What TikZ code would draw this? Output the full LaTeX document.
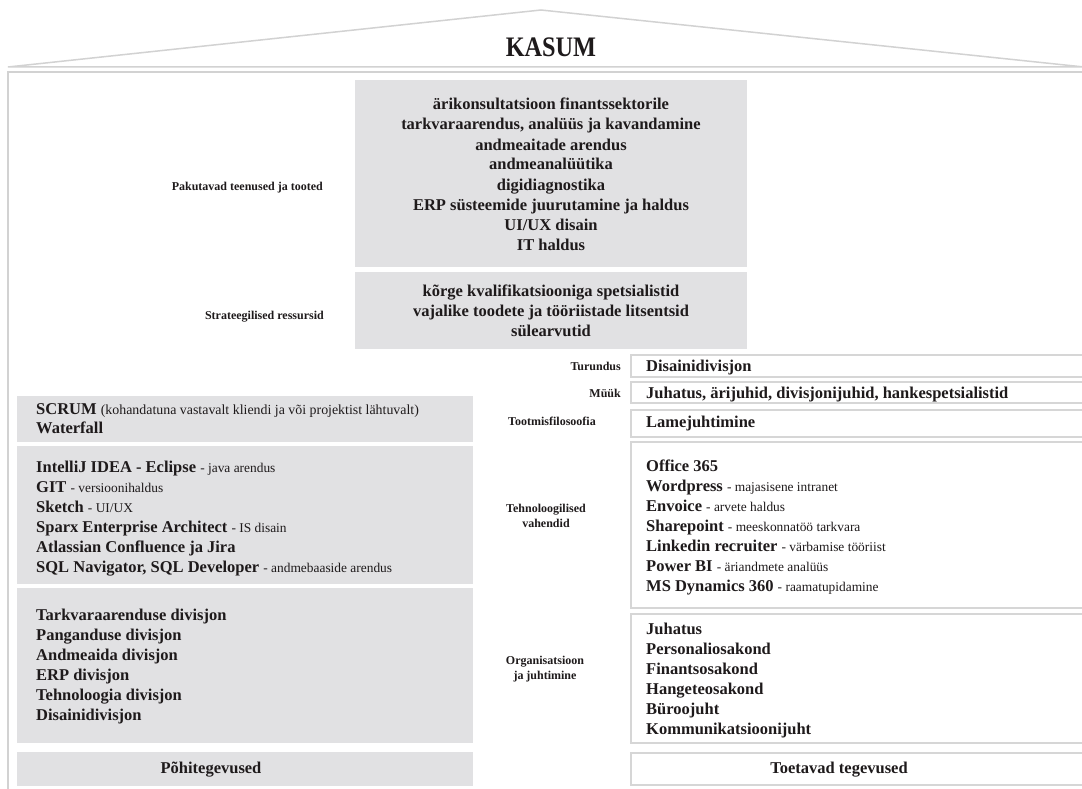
\documentclass[tikz,border=0pt]{standalone}
\usepackage{fontspec}
\setmainfont{Liberation Serif}
\definecolor{boxgray}{HTML}{E1E1E3}
\definecolor{bordergray}{HTML}{D6D6D6}
\definecolor{roofgray}{HTML}{D2D2D2}
\definecolor{ink}{HTML}{1E1A1B}
\newcommand\dsc[1]{{\mdseries\fontsize{13.4}{14}\selectfont #1}}
\tikzset{
  graybox/.style={fill=boxgray, draw=none, anchor=north west, inner sep=0, outer sep=0},
  whitebox/.style={fill=white, draw=bordergray, line width=1.4pt, anchor=north west, inner sep=0, outer sep=0},
  item/.style={anchor=base west, inner sep=0, text=ink, font=\bfseries\fontsize{16.5}{20}\selectfont},
  citem/.style={anchor=base, inner sep=0, text=ink, font=\bfseries\fontsize{16.5}{20}\selectfont},
  lbl/.style={inner sep=0, text=ink, font=\bfseries\fontsize{12}{15}\selectfont},
  roof/.style={draw=roofgray, line width=1.5pt}
}
\begin{document}
\begin{tikzpicture}[x=1pt,y=-1pt]
\clip (0,0) rectangle (1082,789);
\fill[white] (0,0) rectangle (1082,789);
% roof and frame
\coordinate (rl) at (8,67);
\coordinate (rp) at (541,10);
\coordinate (rr) at (1084,67);
\draw[roof] (rl) -- (rp) -- (rr) -- cycle;
\coordinate (fl) at (8,72);
\coordinate (fr) at (1090,72);
\coordinate (fb) at (8,795);
\draw[roof] (fr) -- (fl) -- (fb);
\node[text=ink, font=\bfseries\fontsize{25}{28}\selectfont, inner sep=0] (kasum) at (551,47) {\scalebox{0.97}[1.13]{KASUM}};

% services and resources
\node[graybox, minimum width=392pt, minimum height=187pt] (svc) at (355,80) {};
\node[graybox, minimum width=392pt, minimum height=77pt] (res) at (355,272) {};
\foreach \t [count=\i from 0] in {ärikonsultatsioon finantssektorile,{tarkvaraarendus, analüüs ja kavandamine},andmeaitade arendus,andmeanalüütika,digidiagnostika,ERP süsteemide juurutamine ja haldus,UI/UX disain,IT haldus}
  \node[citem] (svc\i) at (551,{110+20*\i}) {\t};
\foreach \t [count=\i from 0] in {kõrge kvalifikatsiooniga spetsialistid,vajalike toodete ja tööriistade litsentsid,sülearvutid}
  \node[citem] (res\i) at (551,{296+20*\i}) {\t};
\node[lbl, anchor=base east] (lsvc) at (323,190) {Pakutavad teenused ja tooted};
\node[lbl, anchor=base east] (lres) at (324,319) {Strateegilised ressursid};

% left column
\node[graybox, minimum width=456pt, minimum height=46pt] (scrum) at (17,396) {};
\node[graybox, minimum width=456pt, minimum height=138pt] (tools) at (17,446) {};
\node[graybox, minimum width=456pt, minimum height=155pt] (divs) at (17,588) {};
\node[graybox, minimum width=456pt, minimum height=34pt] (pohi) at (17,752) {};
\node[item] (scrum0) at (36,414) {SCRUM {\mdseries\fontsize{13.9}{14}\selectfont (kohandatuna vastavalt kliendi ja või projektist lähtuvalt)}};
\node[item] (scrum1) at (36,433) {Waterfall};
\foreach \t [count=\i from 0] in {{IntelliJ IDEA - Eclipse \dsc{- java arendus}},{GIT \dsc{- versioonihaldus}},{Sketch \dsc{- UI/UX}},{Sparx Enterprise Architect \dsc{- IS disain}},{Atlassian Confluence ja Jira},{SQL Navigator, SQL Developer \dsc{- andmebaaside arendus}}}
  \node[item] (tool\i) at (36,{472+20*\i}) {\t};
\foreach \t [count=\i from 0] in {Tarkvaraarenduse divisjon,Panganduse divisjon,Andmeaida divisjon,ERP divisjon,Tehnoloogia divisjon,Disainidivisjon}
  \node[item] (div\i) at (36,{620+20*\i}) {\t};
\node[citem] (pohit) at (211,773) {Põhitegevused};

% right column
\node[whitebox, minimum width=470pt, minimum height=22pt] (tur) at (631,355) {};
\node[whitebox, minimum width=470pt, minimum height=21pt] (myyk) at (631,382) {};
\node[whitebox, minimum width=470pt, minimum height=27pt] (lame) at (631,410) {};
\node[whitebox, minimum width=470pt, minimum height=166pt] (tech) at (631,442) {};
\node[whitebox, minimum width=470pt, minimum height=129pt] (org) at (631,614) {};
\node[whitebox, minimum width=470pt, minimum height=32pt] (toet) at (631,753) {};
\node[item] (turt) at (646,371) {Disainidivisjon};
\node[item] (myykt) at (646,398) {Juhatus, ärijuhid, divisjonijuhid, hankespetsialistid};
\node[item] (lamet) at (646,427) {Lamejuhtimine};
\foreach \t [count=\i from 0] in {Office 365,{Wordpress \dsc{- majasisene intranet}},{Envoice \dsc{- arvete haldus}},{Sharepoint \dsc{- meeskonnatöö tarkvara}},{Linkedin recruiter \dsc{- värbamise tööriist}},{Power BI \dsc{- äriandmete analüüs}},{MS Dynamics 360 \dsc{- raamatupidamine}}}
  \node[item] (tech\i) at (646,{471+20*\i}) {\t};
\foreach \t [count=\i from 0] in {Juhatus,Personaliosakond,Finantsosakond,Hangeteosakond,Büroojuht,Kommunikatsioonijuht}
  \node[item] (org\i) at (646,{634+20*\i}) {\t};
\node[citem] (toett) at (839,773) {Toetavad tegevused};

\node[lbl, anchor=base east] (ltur) at (621,370) {Turundus};
\node[lbl, anchor=base east] (lmyyk) at (621,397) {Müük};
\node[lbl, anchor=base] (llame) at (552,425) {Tootmisfilosoofia};
\node[lbl, align=center] (ltech) at (546,516) {Tehnoloogilised\\vahendid};
\node[lbl, align=center] (lorg) at (545,669) {Organisatsioon\\ja juhtimine};
\end{tikzpicture}
\end{document}
